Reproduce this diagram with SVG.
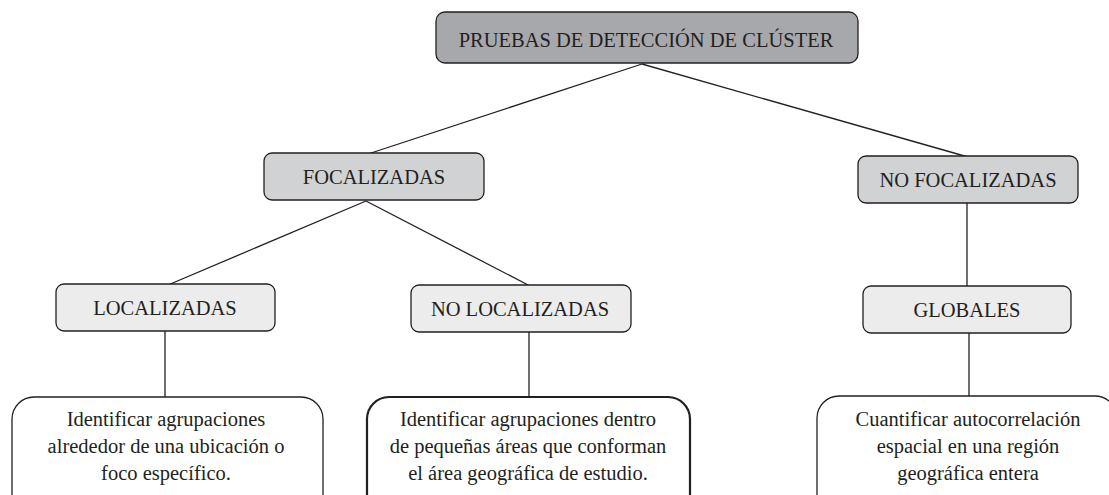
<svg xmlns="http://www.w3.org/2000/svg" width="1109" height="495" viewBox="0 0 1109 495" font-family="'Liberation Serif', 'DejaVu Serif', serif">
<style>
text{font-family:'Liberation Serif','DejaVu Serif',serif;font-size:20.5px;fill:#231f20;text-anchor:middle}
.box{stroke:#231f20;stroke-width:1.3}
.l1{fill:#a7a8ab}
.l2{fill:#d1d2d4}
.l3{fill:#ececed}
.l4{fill:#ffffff}
.conn line{stroke:#231f20;stroke-width:1.3}
</style>
<rect width="1109" height="495" fill="#ffffff"/>
<g class="conn" id="connectors">
<line x1="642" y1="64" x2="368" y2="154"/>
<line x1="642" y1="64" x2="968" y2="157"/>
<line x1="366" y1="201" x2="168" y2="285"/>
<line x1="366" y1="201" x2="530" y2="286"/>
<line x1="165" y1="331" x2="165" y2="397"/>
<line x1="529" y1="332" x2="529" y2="397"/>
<line x1="967" y1="203" x2="967" y2="287"/>
<line x1="969" y1="333" x2="969" y2="396"/>
</g>
<g id="n-root">
<rect class="box l1" x="436" y="12" width="422" height="51" rx="9"/>
<text x="646" y="47">PRUEBAS DE DETECCIÓN DE CLÚSTER</text>
</g>
<g id="n-focalizadas">
<rect class="box l2" x="264" y="153" width="220" height="47" rx="8"/>
<text x="374" y="184">FOCALIZADAS</text>
</g>
<g id="n-nofocalizadas">
<rect class="box l2" x="858" y="156" width="220" height="47" rx="8"/>
<text x="968" y="187">NO FOCALIZADAS</text>
</g>
<g id="n-localizadas">
<rect class="box l3" x="56" y="284" width="219" height="47" rx="8"/>
<text x="165" y="315">LOCALIZADAS</text>
</g>
<g id="n-nolocalizadas">
<rect class="box l3" x="411" y="285" width="220" height="47" rx="8"/>
<text x="520" y="316">NO LOCALIZADAS</text>
</g>
<g id="n-globales">
<rect class="box l3" x="863" y="286" width="208" height="47" rx="8"/>
<text x="967" y="317">GLOBALES</text>
</g>
<g id="n-desc-localizadas">
<rect class="box l4" x="12" y="397" width="311" height="120" rx="22"/>
<text x="166" y="426">Identificar agrupaciones</text>
<text x="166" y="453">alrededor de una ubicación o</text>
<text x="166" y="480">foco específico.</text>
</g>
<g id="n-desc-nolocalizadas">
<rect class="box l4" x="367" y="397" width="323" height="120" rx="22" style="stroke-width:2.2"/>
<text x="528" y="426">Identificar agrupaciones dentro</text>
<text x="528" y="453">de pequeñas áreas que conforman</text>
<text x="528" y="480">el área geográfica de estudio.</text>
</g>
<g id="n-desc-globales">
<rect class="box l4" x="817" y="396" width="300" height="120" rx="22"/>
<text x="968" y="426">Cuantificar autocorrelación</text>
<text x="968" y="453">espacial en una región</text>
<text x="968" y="480">geográfica entera</text>
</g>
</svg>
